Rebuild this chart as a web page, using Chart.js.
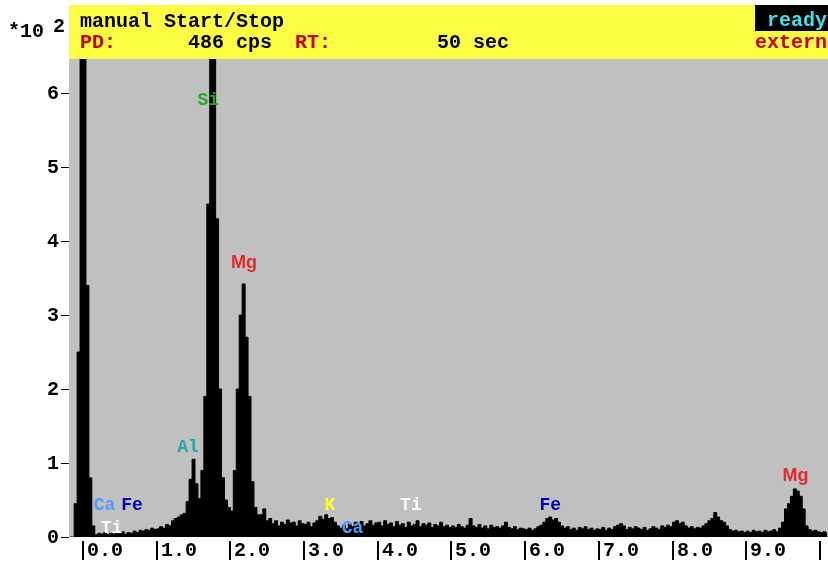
<!DOCTYPE html>
<html>
<head>
<meta charset="utf-8">
<script src="https://cdn.jsdelivr.net/npm/chart.js@4.4.1/dist/chart.umd.min.js"></script>
<style>
  html, body { margin: 0; padding: 0; background: #ffffff; }
  canvas { display: block; }
</style>
</head>
<body>
<canvas id="spectrum" width="828" height="562"></canvas>
<script>
// EDX spectrum, counts in units of 10^2, bins 0.04 keV wide (bin centres)
const firstBinKeV = -0.18;
const binWidthKeV = 0.04;

const countsBelow0 = [0, 0, 0.45, 2.5, 9];
const counts0 = [9, 3.4, 0.8, 0.15, 0.03, 0.05, 0.04, 0.06, 0.03, 0.05, 0.04, 0.06, 0.05, 0.07, 0.04, 0.06, 0.05, 0.08, 0.06, 0.09, 0.08, 0.1, 0.09, 0.12, 0.1];
const counts1 = [0.11, 0.14, 0.12, 0.17, 0.15, 0.22, 0.25, 0.27, 0.3, 0.32, 0.48, 0.78, 1.05, 0.72, 0.52, 0.9, 1.9, 4.5, 9, 9, 4.3, 2.0, 0.8, 0.5, 0.4];
const counts2 = [0.35, 0.9, 2.0, 3.0, 3.42, 2.7, 1.9, 0.75, 0.4, 0.3, 0.3, 0.38, 0.22, 0.25, 0.18, 0.22, 0.15, 0.2, 0.17, 0.23, 0.19, 0.2, 0.15, 0.22, 0.18];
const counts3 = [0.17, 0.2, 0.14, 0.19, 0.22, 0.28, 0.24, 0.3, 0.25, 0.26, 0.2, 0.15, 0.12, 0.16, 0.11, 0.18, 0.14, 0.2, 0.16, 0.21, 0.15, 0.18, 0.22, 0.16, 0.19];
const counts4 = [0.2, 0.15, 0.22, 0.17, 0.19, 0.14, 0.21, 0.16, 0.18, 0.13, 0.2, 0.15, 0.17, 0.22, 0.14, 0.18, 0.16, 0.19, 0.13, 0.17, 0.15, 0.2, 0.14, 0.16, 0.13];
const counts5 = [0.15, 0.13, 0.17, 0.14, 0.12, 0.16, 0.25, 0.15, 0.13, 0.17, 0.12, 0.15, 0.11, 0.16, 0.13, 0.14, 0.12, 0.15, 0.2, 0.13, 0.11, 0.14, 0.1, 0.12, 0.11];
const counts6 = [0.1, 0.12, 0.09, 0.11, 0.14, 0.16, 0.2, 0.25, 0.27, 0.23, 0.25, 0.2, 0.15, 0.12, 0.14, 0.1, 0.12, 0.09, 0.13, 0.11, 0.14, 0.1, 0.12, 0.09, 0.11];
const counts7 = [0.1, 0.13, 0.09, 0.12, 0.1, 0.14, 0.16, 0.18, 0.15, 0.1, 0.13, 0.11, 0.14, 0.12, 0.1, 0.13, 0.09, 0.11, 0.14, 0.12, 0.1, 0.15, 0.13, 0.16, 0.14];
const counts8 = [0.2, 0.22, 0.18, 0.2, 0.15, 0.12, 0.14, 0.11, 0.13, 0.12, 0.15, 0.18, 0.22, 0.25, 0.33, 0.27, 0.22, 0.2, 0.15, 0.1, 0.08, 0.09, 0.07, 0.08, 0.06];
const counts9 = [0.08, 0.06, 0.09, 0.07, 0.08, 0.06, 0.09, 0.07, 0.08, 0.1, 0.07, 0.12, 0.2, 0.38, 0.45, 0.55, 0.65, 0.62, 0.55, 0.38, 0.15, 0.1, 0.08, 0.09, 0.07];
const counts10 = [0.06, 0.07, 0.05];

// axis ticks
const xTicks = [0, 1, 2, 3, 4, 5, 6, 7, 8, 9, 10];
const xTickLabels = ['0.0', '1.0', '2.0', '3.0', '4.0', '5.0', '6.0', '7.0', '8.0', '9.0', ''];
const yTicks = [0, 1, 2, 3, 4, 5, 6];

// element markers: name, energy (keV), label level (x10^2)
const markerNames  = ['Si', 'Mg', 'Al', 'Ca', 'Fe', 'Ti', 'K', 'Ca', 'Ti', 'Fe', 'Mg'];
const markerKeV    = [1.70, 2.185, 1.425, 0.292, 0.665, 0.387, 3.352, 3.657, 4.45, 6.34, 9.67];
const markerLevels = [5.9, 3.7, 1.21, 0.42, 0.42, 0.11, 0.42, 0.11, 0.42, 0.42, 0.83];

const elementColors = {
    Si: '#22a822', Mg: '#e82828', Al: '#20a8a8', Ca: '#4c9cff',
    Fe: '#0000b8', Ti: '#ffffff', K: '#ffff30'
};

const counts = [].concat(countsBelow0, counts0, counts1, counts2, counts3, counts4,
    counts5, counts6, counts7, counts8, counts9, counts10);
const points = counts.map((c, i) => ({ x: +(firstBinKeV + i * binWidthKeV).toFixed(2), y: c }));

const monoBold = 'bold 20px "Liberation Mono", "DejaVu Sans Mono", monospace';

const decorPlugin = {
    id: 'decor',
    beforeDatasetsDraw(chart) {
        const { ctx, chartArea } = chart;
        ctx.save();
        ctx.fillStyle = '#c0c0c0';
        ctx.fillRect(chartArea.left, chartArea.top, chartArea.right - chartArea.left, chartArea.bottom - chartArea.top);
        ctx.restore();
    },
    afterDatasetsDraw(chart) {
        const { ctx, chartArea, scales } = chart;
        const xs = scales.x, ys = scales.y;
        ctx.save();

        // element labels
        ctx.font = 'bold 18px "Liberation Mono", monospace';
        ctx.textAlign = 'center';
        ctx.textBaseline = 'middle';
        markerNames.forEach((name, i) => {
            ctx.fillStyle = elementColors[name];
            ctx.font = name === 'Mg' ? 'bold 18px "Liberation Sans", sans-serif' : 'bold 18px "Liberation Mono", monospace';
            ctx.fillText(name, xs.getPixelForValue(markerKeV[i]), ys.getPixelForValue(markerLevels[i]));
        });

        // y axis ticks and labels
        ctx.fillStyle = '#000';
        ctx.font = monoBold;
        ctx.textAlign = 'right';
        ctx.textBaseline = 'middle';
        yTicks.forEach(v => {
            const y = Math.round(ys.getPixelForValue(v));
            ctx.fillRect(chartArea.left - 8, y, 8, 1);
            ctx.fillText(String(v), chartArea.left - 10, y + 1);
        });

        // x axis ticks: bar followed by label
        ctx.textAlign = 'left';
        xTicks.forEach((v, i) => {
            const x = Math.round(xs.getPixelForValue(v));
            ctx.fillRect(x - 1, chartArea.bottom + 4, 2, 19);
            ctx.fillText(xTickLabels[i], x + 4, chartArea.bottom + 14);
        });

        // exponent note
        ctx.textBaseline = 'alphabetic';
        ctx.fillText('*10', 8, 37);
        ctx.fillText('2', 53, 32);

        // status header
        const hx = chartArea.left, hTop = 5;
        ctx.fillStyle = '#fcfc44';
        ctx.fillRect(hx, hTop, chartArea.right - hx, chartArea.top - hTop);
        ctx.fillStyle = '#000';
        ctx.fillRect(755, hTop, chartArea.right - 755, 26);

        ctx.fillStyle = '#000';
        ctx.fillText('manual Start/Stop', 80, 27);
        ctx.fillText('486 cps', 188, 48);
        ctx.fillText('50 sec', 437, 48);
        ctx.fillStyle = '#c80000';
        ctx.fillText('PD:', 80, 48);
        ctx.fillText('RT:', 295, 48);
        ctx.fillText('extern', 755, 48);
        ctx.fillStyle = '#40e0e8';
        ctx.fillText('ready', 767, 26);

        ctx.restore();
    }
};

new Chart(document.getElementById('spectrum'), {
    type: 'line',
    data: {
        datasets: [{
            data: points,
            stepped: 'middle',
            fill: 'origin',
            backgroundColor: '#000000',
            borderColor: '#000000',
            borderWidth: 1,
            pointRadius: 0
        }]
    },
    options: {
        responsive: false,
        animation: false,
        layout: { padding: { left: 69, top: 59, right: 0, bottom: 25 } },
        plugins: {
            legend: { display: false },
            tooltip: { enabled: false }
        },
        scales: {
            x: { type: 'linear', min: -0.19, max: 10.11, display: false },
            y: { min: 0, max: 6.46, display: false }
        }
    },
    plugins: [decorPlugin]
});
</script>
</body>
</html>
